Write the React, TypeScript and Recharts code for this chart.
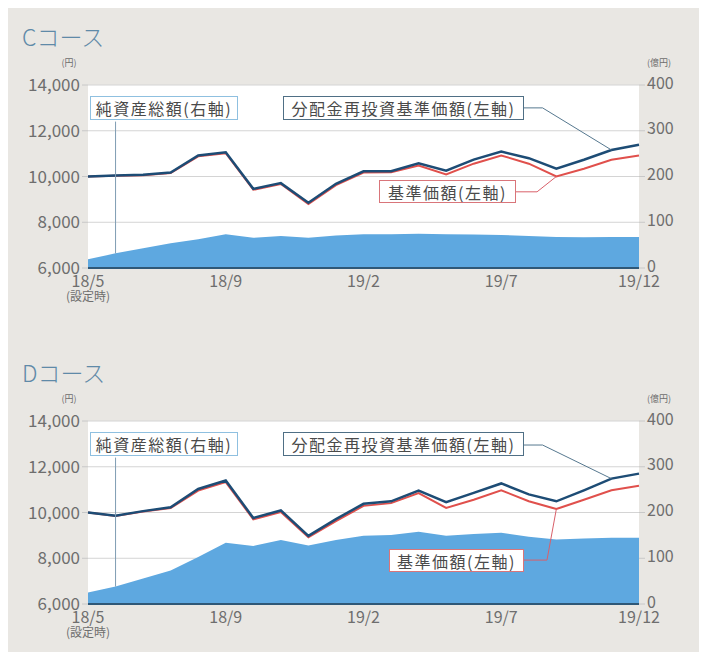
import React from "react";
import {
  ComposedChart,
  Area,
  Line,
  XAxis,
  YAxis,
  CartesianGrid,
  ReferenceLine,
} from "recharts";

// month index 0 = launch date (設定時), then month ends 18/5 .. 19/12
const months = [
  "設定時", "18/5", "18/6", "18/7", "18/8", "18/9", "18/10", "18/11", "18/12",
  "19/1", "19/2", "19/3", "19/4", "19/5", "19/6", "19/7", "19/8", "19/9",
  "19/10", "19/11", "19/12",
];
const xTicks = [0, 5, 10, 15, 20];
const xTickLabels = ["18/5", "18/9", "19/2", "19/7", "19/12"];
const launchNote = "(設定時)";
const navTicks = [6000, 8000, 10000, 12000, 14000];
const assetTicks = [0, 100, 200, 300, 400];

// Cコース
const cReinvested = [
  10000, 10040, 10080, 10170, 10920, 11060, 9460, 9710, 8850, 9680, 10230,
  10230, 10580, 10250, 10740, 11090, 10800, 10340, 10730, 11160, 11390,
];
const cNav = [
  10000, 10030, 10060, 10150, 10880, 11020, 9420, 9670, 8800, 9620, 10170,
  10190, 10480, 10090, 10560, 10920, 10560, 10000, 10340, 10730, 10920,
];
const cAssets = [
  19, 32, 43, 54, 63, 74, 66, 70, 66, 71, 74, 74, 75, 74, 73, 72, 70, 68, 67,
  68, 68,
];

// Dコース
const dReinvested = [
  10000, 9860, 10060, 10230, 11030, 11400, 9760, 10090, 8980, 9710, 10380,
  10490, 10960, 10450, 10860, 11270, 10790, 10490, 10970, 11480, 11700,
];
const dNav = [
  10000, 9850, 10040, 10200, 10960, 11330, 9700, 10020, 8920, 9620, 10290,
  10410, 10850, 10200, 10560, 10970, 10490, 10150, 10560, 10970, 11170,
];
const dAssets = [
  25, 38, 56, 73, 103, 134, 127, 140, 128, 140, 149, 151, 158, 149, 153, 156,
  147, 141, 143, 145, 145,
];

const FONT = "'Noto Sans CJK JP', 'Noto Sans', sans-serif";
const BLUE_LINE = "#1d4c75";
const RED_LINE = "#e0504c";
const AREA_FILL = "#5ea8e0";
const TICK_COLOR = "#6e6e6e";

const XTick = (props: any) => {
  const { x, y, payload } = props;
  const label = xTickLabels[xTicks.indexOf(payload.value)];
  return (
    <g>
      <text x={x} y={y + 19} textAnchor="middle" fontSize={16} fill={TICK_COLOR} fontFamily={FONT}>
        {label}
      </text>
      {payload.value === 0 && (
        <text x={x} y={y + 33} textAnchor="middle" fontSize={12} fill={TICK_COLOR} fontFamily={FONT}>
          {launchNote}
        </text>
      )}
    </g>
  );
};

const boxStyle = (border: string): React.CSSProperties => ({
  position: "absolute",
  background: "#fff",
  border: `1px solid ${border}`,
  boxSizing: "border-box",
  display: "flex",
  alignItems: "center",
  justifyContent: "center",
  fontSize: 16,
  letterSpacing: 1.5,
  color: "#4a4a4a",
  fontFamily: FONT,
  whiteSpace: "nowrap",
});

interface CourseProps {
  title: string;
  top: number;
  reinvested: number[];
  nav: number[];
  assets: number[];
  reinvLeaderY: number;
  navLeaderY: number;
  navBend: number;
  navBoxLeft: number;
  navBoxTop: number;
  navBoxWidth: number;
}

function CourseChart(p: CourseProps) {
  const rows = months.map((m, i) => ({
    i,
    month: m,
    reinvested: p.reinvested[i],
    nav: p.nav[i],
    assets: p.assets[i],
  }));

  return (
    <div style={{ position: "absolute", left: 0, top: p.top, width: 691, height: 320 }}>
      <div
        style={{
          position: "absolute",
          left: 14,
          top: 17,
          fontSize: 23,
          lineHeight: "23px",
          color: "#5f8aa8",
          fontFamily: FONT,
          fontWeight: 300,
        }}
      >
        {p.title}
      </div>
      <div style={{ position: "absolute", left: 52, top: 50, width: 18, lineHeight: "10px", textAlign: "center", fontSize: 9, color: TICK_COLOR, fontFamily: FONT }}>
        (円)
      </div>
      <div style={{ position: "absolute", left: 633, top: 50, width: 36, lineHeight: "10px", textAlign: "center", fontSize: 9, color: TICK_COLOR, fontFamily: FONT }}>
        (億円)
      </div>

      <ComposedChart
        width={691}
        height={320}
        data={rows}
        margin={{ top: 77, right: 0, bottom: 0, left: 0 }}
      >
        <CartesianGrid yAxisId="left" vertical={false} stroke="#d4d4d4" fill="#fff" />
        <YAxis
          yAxisId="left"
          domain={[6000, 14000]}
          ticks={navTicks}
          interval={0}
          width={80}
          axisLine={false}
          tickLine={{ stroke: "#c8c8c8" }}
          tickSize={6}
          tickMargin={2}
          tickFormatter={(v: number) => v.toLocaleString("en-US")}
          tick={{ fontSize: 17, fill: TICK_COLOR, fontFamily: FONT }}
        />
        <YAxis
          yAxisId="right"
          orientation="right"
          domain={[0, 400]}
          ticks={assetTicks}
          interval={0}
          width={60}
          axisLine={false}
          tickLine={{ stroke: "#c8c8c8" }}
          tickSize={6}
          tickMargin={2}
          tick={{ fontSize: 16, fill: TICK_COLOR, fontFamily: FONT, textAnchor: "start", dy: -2 }}
        />
        <Area
          yAxisId="right"
          type="linear"
          dataKey="assets"
          stroke="none"
          fill={AREA_FILL}
          fillOpacity={1}
          isAnimationActive={false}
        />
        <Line
          yAxisId="left"
          type="linear"
          dataKey="nav"
          stroke={RED_LINE}
          strokeWidth={2}
          dot={false}
          isAnimationActive={false}
        />
        <Line
          yAxisId="left"
          type="linear"
          dataKey="reinvested"
          stroke={BLUE_LINE}
          strokeWidth={2.5}
          dot={false}
          isAnimationActive={false}
        />
        {/* leader lines from the label boxes to the series */}
        <ReferenceLine
          yAxisId="right"
          segment={[{ x: 1, y: 320 }, { x: 1, y: p.assets[1] }]}
          stroke="#7f9db3"
          strokeWidth={1}
        />
        <ReferenceLine
          yAxisId="left"
          segment={[{ x: 15.7, y: p.reinvLeaderY }, { x: 16.5, y: p.reinvLeaderY }]}
          stroke="#56788f"
          strokeWidth={1}
        />
        <ReferenceLine
          yAxisId="left"
          segment={[{ x: 16.5, y: p.reinvLeaderY }, { x: 19, y: p.reinvested[19] }]}
          stroke="#56788f"
          strokeWidth={1}
        />
        <ReferenceLine
          yAxisId="left"
          segment={[{ x: 15.4, y: p.navLeaderY }, { x: p.navBend, y: p.navLeaderY }]}
          stroke="#d9606a"
          strokeWidth={1}
        />
        <ReferenceLine
          yAxisId="left"
          segment={[{ x: p.navBend, y: p.navLeaderY }, { x: 17, y: p.nav[17] }]}
          stroke="#d9606a"
          strokeWidth={1}
        />
        <XAxis
          dataKey="i"
          type="number"
          domain={[0, 20]}
          ticks={xTicks}
          interval={0}
          height={60}
          tickLine={false}
          tickSize={0}
          tickMargin={0}
          axisLine={{ stroke: "#2f5877", strokeWidth: 2 }}
          tick={(props: any) => <XTick {...props} />}
        />
      </ComposedChart>

      <div style={{ ...boxStyle("#8fc0e0"), left: 82, top: 88, width: 148, height: 24 }}>
        純資産総額(右軸)
      </div>
      <div style={{ ...boxStyle("#4f6f85"), left: 275, top: 88, width: 241, height: 24 }}>
        分配金再投資基準価額(左軸)
      </div>
      <div
        style={{
          ...boxStyle("#d9757a"),
          left: p.navBoxLeft,
          top: p.navBoxTop,
          width: p.navBoxWidth,
          height: 23,
        }}
      >
        基準価額(左軸)
      </div>
    </div>
  );
}

export default function App() {
  return (
    <div
      style={{
        position: "relative",
        width: 691,
        height: 644,
        background: "#e9e7e3",
        fontFamily: FONT,
      }}
    >
      <CourseChart
        title="Cコース"
        top={0}
        reinvested={cReinvested}
        nav={cNav}
        assets={cAssets}
        reinvLeaderY={13000}
        navLeaderY={9330}
        navBend={16.3}
        navBoxLeft={371}
        navBoxTop={172}
        navBoxWidth={137}
      />
      <CourseChart
        title="Dコース"
        top={336}
        reinvested={dReinvested}
        nav={dNav}
        assets={dAssets}
        reinvLeaderY={12950}
        navLeaderY={7920}
        navBend={16.66}
        navBoxLeft={381}
        navBoxTop={205}
        navBoxWidth={135}
      />
    </div>
  );
}
